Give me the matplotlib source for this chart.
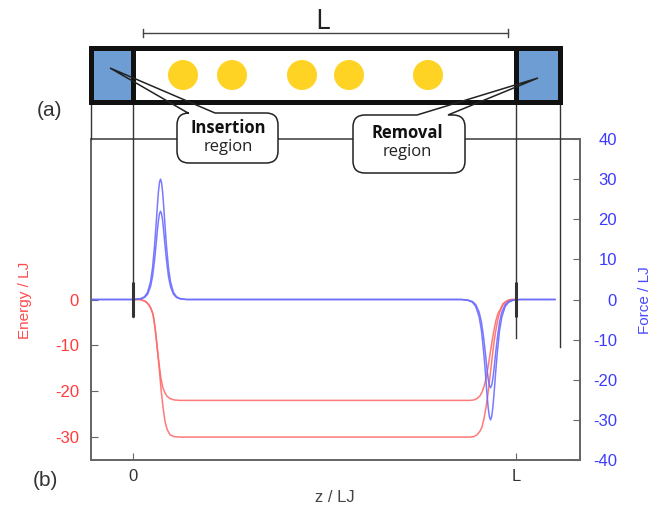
import numpy as np
import matplotlib
matplotlib.use("Agg")
import matplotlib.pyplot as plt
from matplotlib.patches import Rectangle, Circle, PathPatch
from matplotlib.path import Path

plt.rcParams["font.family"] = ["Liberation Sans", "DejaVu Sans"]
plt.rcParams["axes.unicode_minus"] = False

# ---- data (z in units of L) ----
# force curves: shared z grid
z_force = [-0.1097,
           0.0039, 0.0196, 0.0300, 0.0379, 0.0457, 0.0509, 0.0561, 0.0587, 0.0614,
           0.0640, 0.0666, 0.0692, 0.0718, 0.0744, 0.0770, 0.0796, 0.0822, 0.0849,
           0.0875, 0.0927, 0.0979, 0.1057, 0.1136, 0.1240, 0.1397,
           0.8567, 0.8744, 0.8862, 0.8950, 0.9039, 0.9099, 0.9157, 0.9187, 0.9217,
           0.9245, 0.9275, 0.9305, 0.9334, 0.9364, 0.9393, 0.9423, 0.9452, 0.9482,
           0.9512, 0.9569, 0.9629, 0.9718, 0.9807, 0.9924, 1.0102,
           1.1018]
force_30 = [0,
            0, 0.19, 0.68, 1.76, 4.4, 7.8, 13.2, 16.6, 20.3,
            23.9, 27.1, 29.2, 30.0, 29.2, 27.1, 23.9, 20.3, 16.6,
            13.2, 7.8, 4.4, 1.76, 0.68, 0.19, 0,
            0, -0.19, -0.68, -1.76, -4.4, -7.8, -13.2, -16.6, -20.3,
            -23.9, -27.1, -29.2, -30.0, -29.2, -27.1, -23.9, -20.3, -16.6,
            -13.2, -7.8, -4.4, -1.76, -0.68, -0.19, 0,
            0]
force_22 = [0,
            0, 0.14, 0.50, 1.29, 3.2, 5.7, 9.7, 12.2, 14.9,
            17.6, 19.9, 21.4, 22.0, 21.4, 19.9, 17.6, 14.9, 12.2,
            9.7, 5.7, 3.2, 1.29, 0.50, 0.14, 0,
            0, -0.14, -0.50, -1.29, -3.2, -5.7, -9.7, -12.2, -14.9,
            -17.6, -19.9, -21.4, -22.0, -21.4, -19.9, -17.6, -14.9, -12.2,
            -9.7, -5.7, -3.2, -1.29, -0.50, -0.14, 0,
            0]

# energy curves: shared z grid
z_energy = [0, 0.0183, 0.0261, 0.0339, 0.0418, 0.0470, 0.0522, 0.0574, 0.0627,
            0.0679, 0.0731, 0.0783, 0.0836, 0.0888, 0.0966, 0.1070, 0.1227,
            0.8799, 0.8903, 0.8982, 0.9060, 0.9112, 0.9164, 0.9217, 0.9269,
            0.9321, 0.9373, 0.9426, 0.9478, 0.9530, 0.9582, 0.9661, 0.9739,
            0.9817, 0.9896, 1.0]
energy_22 = [0, 0, -0.2, -0.5, -1.2, -2.0, -3.2, -6.0, -10.0,
             -14.0, -17.3, -19.3, -20.4, -21.1, -21.6, -21.9, -22.0,
             -22.0, -21.9, -21.6, -21.0, -20.2, -19.0, -17.2, -14.8,
             -12.0, -9.2, -6.6, -4.5, -3.0, -2.3, -0.9, -0.4,
             -0.1, 0, 0]
energy_30 = [0, 0, -0.2, -0.5, -1.2, -2.0, -3.2, -6.0, -10.2,
             -14.5, -19.5, -23.5, -26.6, -28.3, -29.5, -29.9, -30.0,
             -30.0, -29.9, -29.5, -28.7, -27.8, -26.0, -23.5, -20.5,
             -16.8, -13.0, -9.3, -6.5, -4.2, -2.6, -1.2, -0.5,
             -0.1, 0, 0]

energy_ticks = [0, -10, -20, -30]
force_ticks = [-40, -30, -20, -10, 0, 10, 20, 30, 40]
x_ticks = [0, 1]
x_ticklabels = ["0", "L"]

# schematic (a): particle centres in pixels
particle_x = [183, 232, 302, 349, 428]

RED = "#ff6b6b"
BLUE = "#6b6bff"
W, H = 667, 507

fig = plt.figure(figsize=(W / 100, H / 100), dpi=100)
fig.patch.set_facecolor("white")

# ---- (b) energy / force plot ----
ax = fig.add_axes([91 / W, (H - 460) / H, (580 - 91) / W, (460 - 139) / H])
ax2 = ax.twinx()

ax.plot(z_energy, energy_22, color=RED, lw=1.1, alpha=0.9)
ax.plot(z_energy, energy_30, color=RED, lw=1.1, alpha=0.9)
ax2.plot(z_force, force_22, color=BLUE, lw=1.1, alpha=0.9)
ax2.plot(z_force, force_30, color=BLUE, lw=1.1, alpha=0.9)
ax2.vlines(x_ticks, -4.4, 4.4, color="#333333", lw=2.2)

ax.set_xlim(-0.1097, 1.1671)
ax.set_ylim(-35, 35)
ax2.set_ylim(-40, 40)
ax.set_xticks(x_ticks)
ax.set_xticklabels(x_ticklabels)
ax.set_yticks(energy_ticks)
ax2.set_yticks(force_ticks)

for a in (ax, ax2):
    for sp in a.spines.values():
        sp.set_color("#666666")
        sp.set_linewidth(1.3)
ax.tick_params(axis="x", direction="in", length=5, color="#666666",
               labelcolor="#333333", labelsize=12, pad=6.5, top=False)
ax.tick_params(axis="y", direction="in", length=5, color="#666666",
               labelcolor="#ff3b3b", labelsize=12, pad=8.6, right=False)
ax2.tick_params(axis="y", direction="in", length=5, color="#666666",
                labelcolor="#3b3bff", labelsize=12, pad=26.6)
for lbl in ax2.get_yticklabels():
    lbl.set_ha("right")

fig.text(25 / W, 1 - 300 / H, "Energy / LJ", color="#ff4a4a", fontsize=11,
         rotation=90, ha="center", va="center")
fig.text(645 / W, 1 - 300 / H, "Force / LJ", color="#4a4aff", fontsize=11,
         rotation=90, ha="center", va="center")
fig.text(335 / W, 1 - 497 / H, "z / LJ", color="#444444", fontsize=12,
         ha="center", va="center")
fig.text(45 / W, 1 - 480 / H, "(b)", color="#333333", fontsize=15,
         ha="center", va="center")
fig.text(49 / W, 1 - 111 / H, "(a)", color="#333333", fontsize=15,
         ha="center", va="center")

# ---- (a) schematic overlay, pixel coordinates ----
ov = fig.add_axes([0, 0, 1, 1], zorder=5)
ov.set_xlim(0, W)
ov.set_ylim(H, 0)
ov.axis("off")
ov.patch.set_alpha(0)


def zpx(z):
    return ax.transData.transform((z, 0))[0]


x0, xL = zpx(0), zpx(1)

# guide lines running down from the box
for x, y_end in [(91, 139), (x0, 317), (xL, 338), (560, 347)]:
    ov.plot([x, x], [103, y_end], color="#333333", lw=1, zorder=1)


def callout(x_left, y_top, x_right, y_bot, r, tip, base_a, base_b):
    verts = [(base_b, y_top), (x_right - r, y_top),
             (x_right, y_top), (x_right, y_top + r),
             (x_right, y_bot - r),
             (x_right, y_bot), (x_right - r, y_bot),
             (x_left + r, y_bot),
             (x_left, y_bot), (x_left, y_bot - r),
             (x_left, y_top + r),
             (x_left, y_top), (x_left + r, y_top),
             (base_a, y_top), tip, (base_b, y_top)]
    codes = [Path.MOVETO, Path.LINETO,
             Path.CURVE3, Path.CURVE3,
             Path.LINETO,
             Path.CURVE3, Path.CURVE3,
             Path.LINETO,
             Path.CURVE3, Path.CURVE3,
             Path.LINETO,
             Path.CURVE3, Path.CURVE3,
             Path.LINETO, Path.LINETO, Path.CLOSEPOLY]
    path = Path(verts, codes)
    ov.add_patch(PathPatch(path, facecolor="white", edgecolor="none", zorder=2))
    ov.add_patch(PathPatch(path, facecolor="none", edgecolor="#222222",
                           lw=1.1, zorder=6))


callout(177, 113, 278, 163, 12, (110, 68), 188, 215)
callout(353, 115, 465, 173, 12, (538, 78), 417, 448)

# box with insertion / removal regions
ov.add_patch(Rectangle((90.5, 47.5), x0 - 90.5, 54, facecolor="#6d9dd3",
                       edgecolor="none", zorder=3))
ov.add_patch(Rectangle((xL, 47.5), 559.5 - xL, 54, facecolor="#6d9dd3",
                       edgecolor="none", zorder=3))
for px in particle_x:
    ov.add_patch(Circle((px, 75), 15, facecolor="#ffd324", edgecolor="none",
                        zorder=3))
ov.add_patch(Rectangle((90.5, 47.5), 559.5 - 90.5, 54, facecolor="none",
                       edgecolor="#111111", lw=3.6, zorder=4))
ov.plot([x0, x0], [47.5, 101.5], color="#111111", lw=3.6, zorder=4)
ov.plot([xL, xL], [47.5, 101.5], color="#111111", lw=3.6, zorder=4)

# dimension line for L
ov.plot([143, 508], [33, 33], color="#444444", lw=1, zorder=4)
ov.plot([143, 143], [29, 37], color="#444444", lw=1, zorder=4)
ov.plot([508, 508], [29, 37], color="#444444", lw=1, zorder=4)
ov.text(322, 22, "L", fontsize=20, color="#222222", ha="center", va="center",
        family=["Open Sans", "DejaVu Sans"], zorder=7)

ov.text(228, 128, "Insertion", fontsize=12, fontweight="bold", color="#111111",
        ha="center", va="center", family=["Open Sans", "DejaVu Sans"], zorder=7)
ov.text(228, 147, "region", fontsize=12, color="#222222",
        ha="center", va="center", family=["Open Sans", "DejaVu Sans"], zorder=7)
ov.text(407, 133, "Removal", fontsize=12, fontweight="bold", color="#111111",
        ha="center", va="center", family=["Open Sans", "DejaVu Sans"], zorder=7)
ov.text(407, 152, "region", fontsize=12, color="#222222",
        ha="center", va="center", family=["Open Sans", "DejaVu Sans"], zorder=7)

fig.savefig("out.png", dpi=100, facecolor="white")
